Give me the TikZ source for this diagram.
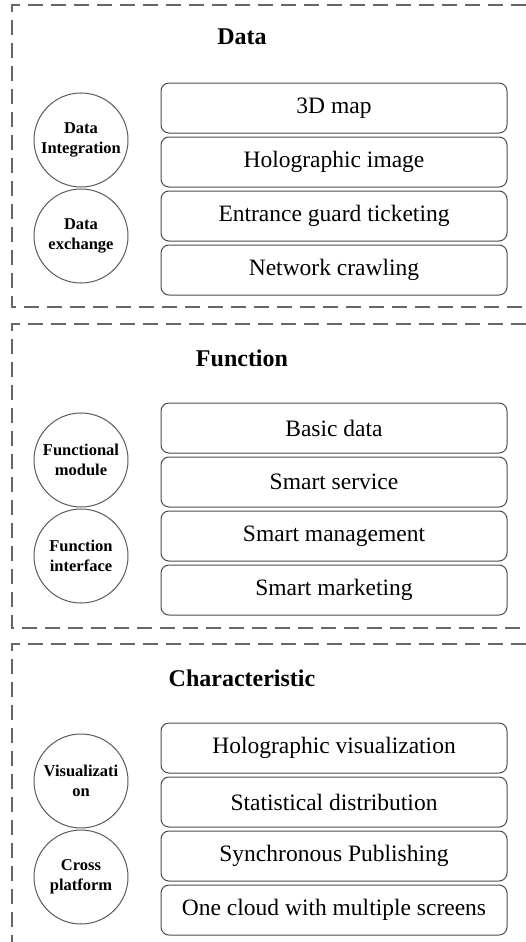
\documentclass[tikz,border=0pt]{standalone}
\usepackage{fontspec}
\setmainfont{Liberation Serif}
\usetikzlibrary{positioning}

\begin{document}
\begin{tikzpicture}[
    x=1pt, y=-1pt,
    node distance=3pt,
    title/.style={font=\fontsize{24}{28}\selectfont\bfseries},
    item/.style={rectangle, draw=black!70, line width=1pt, rounded corners=8pt, minimum width=346pt, minimum height=50pt, inner sep=0pt, font=\fontsize{23.5}{27}\selectfont},
    tag/.style={circle, draw=black!65, line width=1pt, minimum size=94pt, inner sep=0pt, align=center, font=\fontsize{16.5}{20}\selectfont\bfseries},
    frame/.style={draw=black!60, line width=1.3pt, dash pattern=on 15pt off 8pt},
]
\useasboundingbox (0,0) rectangle (526,942);

% Data
\node[title] (datatitle) at (242,37) {Data};
\node[item] (map) at (334,108) {3D map};
\node[item, below=of map] (holo) {Holographic image};
\node[item, below=of holo] (ticket) {Entrance guard ticketing};
\node[item, below=of ticket] (crawl) {Network crawling};
\node[tag] (integ) at (81,140) {Data\\Integration};
\node[tag, below=1pt of integ] (exch) {Data\\exchange};

% Function
\node[title] (functitle) at (242,358) {Function};
\node[item] (basic) at (334,428) {Basic data};
\node[item, below=of basic] (service) {Smart service};
\node[item, below=of service] (manage) {Smart management};
\node[item, below=of manage] (market) {Smart marketing};
\node[tag] (module) at (81,460) {Functional\\module};
\node[tag, below=1pt of module] (iface) {Function\\interface};

% Characteristic
\node[title] (chartitle) at (242,678) {Characteristic};
\node[item] (hvis) at (334,748) {Holographic visualization};
\node[item, below=of hvis] (stat) {Statistical distribution};
\node[item, below=of stat] (sync) {Synchronous Publishing};
\node[item, below=of sync] (cloud) {One cloud with multiple screens};
\node[tag] (visual) at (81,781) {Visualizati\\on};
\node[tag, below=1pt of visual] (cross) {Cross\\platform};

% dashed frames
\draw[frame] (526,5) -- (12,5) -- (12,307) -- (526,307);
\draw[frame] (526,324) -- (12,324) -- (12,628) -- (526,628);
\draw[frame] (526,644) -- (12,644) -- (12,942);
\end{tikzpicture}
\end{document}
